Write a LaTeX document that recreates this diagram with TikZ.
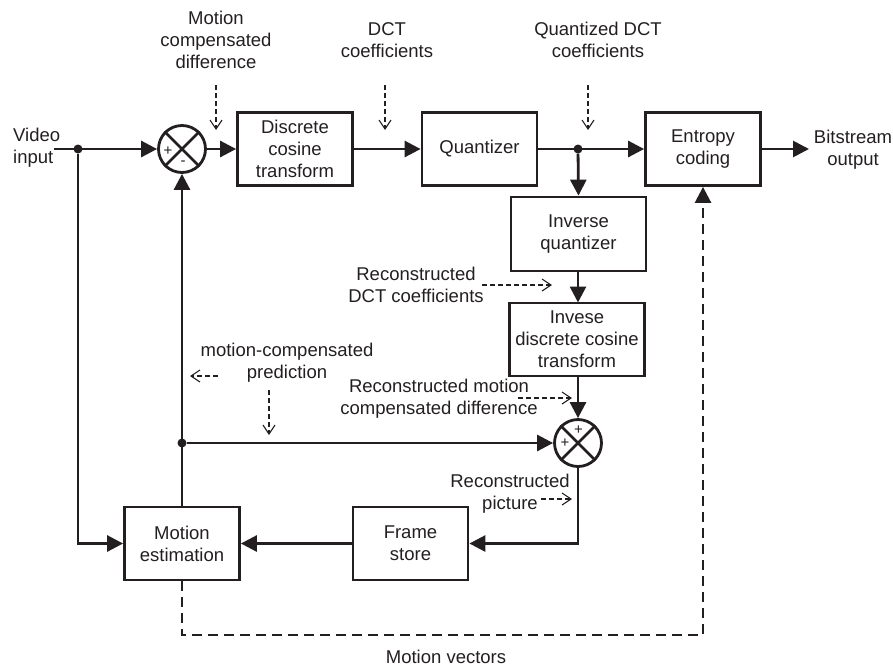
\documentclass[tikz,border=0pt]{standalone}
\usepackage{fontspec}
\setmainfont{Liberation Sans}
\usetikzlibrary{arrows.meta,calc}
\definecolor{ink}{RGB}{35,31,32}
\begin{document}
\begin{tikzpicture}[x=1pt,y=-1pt,
  every node/.style={text=ink},
  txt/.style={font=\fontsize{18.5}{22}\selectfont, align=center, inner sep=0pt},
  box/.style={txt, draw=ink, line width=2.8pt, minimum width=115pt, minimum height=73pt},
  sumc/.style={circle, draw=ink, line width=2.8pt, minimum size=47pt, inner sep=0pt},
  flow/.style={draw=ink, line width=2.8pt, -{Triangle[length=16pt,width=16pt]}},
  wire/.style={draw=ink, line width=2.8pt},
  note/.style={draw=ink, line width=1.1pt, dash pattern=on 5pt off 3pt, -{Straight Barb[length=9pt,width=12pt]}},
  mv/.style={draw=ink, line width=2.6pt, dash pattern=on 10pt off 6pt},
  dot/.style={circle, fill=ink, minimum size=9pt, inner sep=0pt},
  sign/.style={font=\fontsize{15}{15}\selectfont, inner sep=0pt}
]
\useasboundingbox (0,0) rectangle (893,667);

% blocks
\node[sumc] (s1) at (182,149) {};
\node[box] (dct) at (295,149) {Discrete\\cosine\\transform};
\node[box] (quant) at (479.5,149) {Quantizer};
\node[box] (ent) at (703,149) {Entropy\\coding};
\node[box, minimum width=135pt, minimum height=74pt] (iq) at (578.5,234) {Inverse\\quantizer};
\node[box, minimum width=135pt] (idct) at (577,339.5) {Invese\\discrete cosine\\transform};
\node[sumc] (s2) at (578,443) {};
\node[box] (me) at (182,543.5) {Motion\\estimation};
\node[box] (fs) at (410.5,543.5) {Frame\\store};

% crosses and signs
\draw[wire] (s1.45) -- (s1.225) (s1.135) -- (s1.315);
\draw[wire] (s2.45) -- (s2.225) (s2.135) -- (s2.315);
\node[sign] (p1) at (168,151) {+};
\node[sign] (m1) at (183,163) {-};
\node[sign] (p2) at (578.5,430) {+};
\node[sign] (p3) at (565,443) {+};

% junctions
\node[dot] (d1) at (78,149) {};
\node[dot] (d2) at (578,149) {};
\node[dot] (d3) at (182,443) {};
\coordinate (vin) at (54,149);
\coordinate (bout) at (809,149);
\coordinate (mvc) at (182,635);
\coordinate (iqo) at (578,271);
\coordinate (idi) at (578,302.5);
\coordinate (ido) at (578,376);

% main flow
\draw[flow] (vin) -- (s1.west);
\draw[flow] (s1.east) -- (dct.west);
\draw[flow] (dct.east) -- (quant.west);
\draw[flow] (quant.east) -- (ent.west);
\draw[flow] (ent.east) -- (bout);
\draw[flow] (d2) -- (iq.north);
\draw[flow] (iqo) -- (idi);
\draw[flow] (ido) -- (s2.north);
\draw[flow] (s2.south) |- (fs.east);
\draw[flow] (fs.west) -- (me.east);
\draw[flow] (d1) |- (me.west);
\draw[flow] (me.north) -- (s1.south);
\draw[flow] (d3) -- (s2.west);
\draw[mv, -{Triangle[length=16pt,width=16pt]}] (me.south) -- (mvc) -| (ent.south);

% annotations
\node[txt] (l1) at (216,40) {Motion\\compensated\\difference};
\draw[note] (216,85) -- (216,130);
\node[txt] (l2) at (387,40) {DCT\\coefficients};
\draw[note] (385,85) -- (385,130);
\node[txt] (l3) at (598,40) {Quantized DCT\\coefficients};
\draw[note] (588,85) -- (588,130);
\node[txt] (l4) at (416,285) {Reconstructed\\DCT coefficients};
\draw[note] (482,285) -- (552,285);
\node[txt] (l5) at (287,363) {motion-compensated\\prediction};
\draw[note] (218,376) -- (190,376);
\draw[note] (269,390) -- (269,435);
\node[txt] (l6) at (439,399) {Reconstructed motion\\compensated difference};
\draw[note] (518,398) -- (572,398);
\node[txt] (l7) at (510,494) {Reconstructed\\picture};
\draw[note] (541,499) -- (572,499);
\node[txt] (l8) at (446,657) {Motion vectors};
\node[txt, align=left, anchor=west] (vid) at (13,148) {Video\\input};
\node[txt] (bs) at (853,150) {Bitstream\\output};
\end{tikzpicture}
\end{document}
